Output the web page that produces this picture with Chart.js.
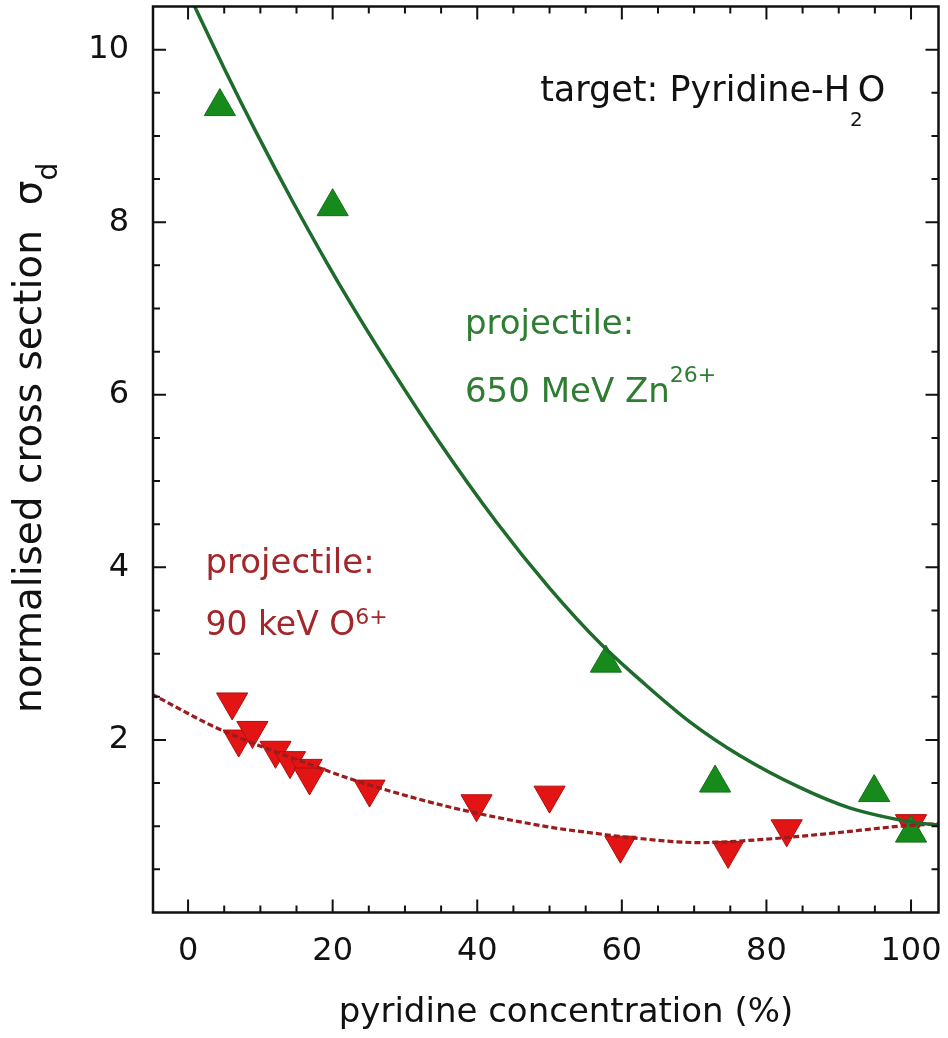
<!DOCTYPE html>
<html><head><meta charset="utf-8">
<script src="https://cdn.jsdelivr.net/npm/chart.js@4/dist/chart.umd.min.js"></script>
<style>html,body{margin:0;padding:0;background:#fff;}#wrap{width:948px;height:1038px;position:relative;}canvas{display:block;}</style>
</head><body><div id="wrap"><canvas id="c" width="948" height="1038" style="width:948px;height:1038px"></canvas></div>
<script>
const FONT = "'DejaVu Sans', sans-serif";

// ---- data ----
const zincConc  = [4.4, 20.0, 57.8, 72.9, 94.9, 100.0];
const zincSigma = [9.34, 8.18, 2.89, 1.50, 1.39, 0.92];

const oxygenConc  = [6.1, 7.0, 8.9, 12.1, 14.1, 16.4, 16.8, 25.1, 39.9, 50.0, 59.8, 74.7, 82.8, 100.0];
const oxygenSigma = [2.44, 2.01, 2.11, 1.88, 1.76, 1.67, 1.57, 1.43, 1.26, 1.36, 0.78, 0.72, 0.97, 1.03];

const zincFitConc  = [0.8, 4.9, 9.5, 14.6, 19.2, 22.2, 26.6, 34.6, 42.7, 50.0, 57.0, 63.0, 69.4, 76.3, 84.6, 91.6, 100.0, 104.0];
const zincFitSigma = [10.52, 9.80, 9.03, 8.22, 7.53, 7.10, 6.50, 5.47, 4.52, 3.76, 3.12, 2.66, 2.21, 1.82, 1.45, 1.21, 1.05, 1.01];

const oxygenFitConc  = [-5.0, 4.2, 18.7, 22.4, 27.0, 36.3, 50.0, 57.0, 61.5, 70.8, 80.0, 89.2, 98.5, 104.0];
const oxygenFitSigma = [2.53, 2.13, 1.66, 1.55, 1.43, 1.22, 0.99, 0.91, 0.865, 0.81, 0.85, 0.92, 1.00, 1.03];

const xMajorTicks = [0, 20, 40, 60, 80, 100];
const xMinorTicks = [5, 10, 15, 25, 30, 35, 45, 50, 55, 65, 70, 75, 85, 90, 95];
const yMajorTicks = [2, 4, 6, 8, 10];
const yMinorTicks = [0.5, 1, 1.5, 2.5, 3, 3.5, 4.5, 5, 5.5, 6.5, 7, 7.5, 8.5, 9, 9.5];

const xTitle = 'pyridine concentration (%)';
const yTitle = 'normalised cross section  σ';
const yTitleSub = 'd';
const targetLabel = ['target: Pyridine-H', '2', 'O'];
const zincLabel = ['projectile:', '650 MeV Zn', '26+'];
const oxygenLabel = ['projectile:', '90 keV O', '6+'];

const pts = (xs, ys) => xs.map((v, i) => ({x: v, y: ys[i]}));

function drawParts(ctx, x, y, parts, color) {
  ctx.fillStyle = color;
  ctx.textBaseline = 'alphabetic';
  ctx.textAlign = 'left';
  let cx = x;
  for (const p of parts) {
    ctx.font = p.size + 'px ' + FONT;
    ctx.fillText(p.t, cx, y + (p.dy || 0));
    cx += ctx.measureText(p.t).width + (p.kern || 0);
  }
}

const decor = {
  id: 'decor',
  afterDatasetsDraw(chart) {
    const {ctx, chartArea: a, scales: {x, y}} = chart;
    ctx.save();
    ctx.strokeStyle = '#111';
    ctx.lineWidth = 2;
    ctx.beginPath();
    const vt = (v, len) => { const p = x.getPixelForValue(v);
      ctx.moveTo(p, a.bottom); ctx.lineTo(p, a.bottom - len);
      ctx.moveTo(p, a.top); ctx.lineTo(p, a.top + len); };
    const ht = (v, len) => { const p = y.getPixelForValue(v);
      ctx.moveTo(a.left, p); ctx.lineTo(a.left + len, p);
      ctx.moveTo(a.right, p); ctx.lineTo(a.right - len, p); };
    xMajorTicks.forEach(v => vt(v, 13));
    xMinorTicks.forEach(v => vt(v, 7));
    yMajorTicks.forEach(v => ht(v, 13));
    yMinorTicks.forEach(v => ht(v, 7));
    ctx.stroke();
    ctx.lineWidth = 2.5;
    ctx.strokeRect(a.left, a.top, a.right - a.left, a.bottom - a.top);

    ctx.fillStyle = '#111';
    ctx.font = '34px ' + FONT;
    ctx.textAlign = 'center';
    ctx.textBaseline = 'alphabetic';
    ctx.fillText(xTitle, 566, 1022);

    ctx.save();
    ctx.translate(41, 713);
    ctx.rotate(-Math.PI / 2);
    drawParts(ctx, 0, 0, [{t: yTitle, size: 39}, {t: yTitleSub, size: 28, dy: 16}], '#111');
    ctx.restore();

    const X = v => x.getPixelForValue(v), Y = v => y.getPixelForValue(v);
    drawParts(ctx, X(48.7), Y(9.41), [
      {t: targetLabel[0], size: 35},
      {t: targetLabel[1], size: 20, dy: 25, kern: -5},
      {t: targetLabel[2], size: 35}], '#111');
    drawParts(ctx, X(38.3), Y(6.71), [{t: zincLabel[0], size: 34}], '#2e7d32');
    drawParts(ctx, X(38.3), Y(5.92), [{t: zincLabel[1], size: 34}, {t: zincLabel[2], size: 22, dy: -20}], '#2e7d32');
    drawParts(ctx, X(2.4), Y(3.93), [{t: oxygenLabel[0], size: 34}], '#a3262a');
    drawParts(ctx, X(2.4), Y(3.22), [{t: oxygenLabel[1], size: 33}, {t: oxygenLabel[2], size: 22, dy: -11}], '#a3262a');
    ctx.restore();
  }
};

new Chart(document.getElementById('c'), {
  type: 'scatter',
  data: {
    datasets: [
      { label: 'Zn fit', data: pts(zincFitConc, zincFitSigma), showLine: true, pointRadius: 0,
        borderColor: '#1e6b2c', borderWidth: 3.5, cubicInterpolationMode: 'monotone', clip: 0, order: 0 },
      { label: 'O fit', data: pts(oxygenFitConc, oxygenFitSigma), showLine: true, pointRadius: 0,
        borderColor: '#9a1c1c', borderWidth: 3.2, borderDash: [6, 3], cubicInterpolationMode: 'monotone', clip: 0, order: 0 },
      { label: 'O6+', data: pts(oxygenConc, oxygenSigma), pointStyle: 'triangle', rotation: 180,
        pointRadius: 18, backgroundColor: '#e31414', borderColor: '#b30d0d', borderWidth: 1, order: 2 },
      { label: 'Zn26+', data: pts(zincConc, zincSigma), pointStyle: 'triangle',
        pointRadius: 18, backgroundColor: '#178a1c', borderColor: '#137018', borderWidth: 1, order: 1 }
    ]
  },
  options: {
    responsive: false,
    animation: false,
    devicePixelRatio: 1,
    layout: { autoPadding: false, padding: { top: 6.5, right: 9.5, left: 0, bottom: 0 } },
    plugins: { legend: { display: false }, tooltip: { enabled: false } },
    scales: {
      x: {
        type: 'linear', min: -4.85, max: 103.8,
        grid: { display: false, drawTicks: false }, border: { display: false },
        afterBuildTicks: s => { s.ticks = xMajorTicks.map(v => ({value: v})); },
        afterFit: s => { s.height = 125.5; s.paddingLeft = 0; s.paddingRight = 0; s.paddingTop = 0; s.paddingBottom = 0; },
        ticks: { color: '#111', font: { family: FONT, size: 32 }, padding: 20, maxRotation: 0, autoSkip: false }
      },
      y: {
        type: 'linear', min: 0, max: 10.5,
        grid: { display: false, drawTicks: false }, border: { display: false },
        afterBuildTicks: s => { s.ticks = yMajorTicks.map(v => ({value: v})); },
        afterFit: s => { s.width = 153; s.paddingLeft = 0; s.paddingRight = 0; s.paddingTop = 0; s.paddingBottom = 0; },
        ticks: { color: '#111', font: { family: FONT, size: 32 }, padding: 24, autoSkip: false }
      }
    }
  },
  plugins: [decor]
});
</script>
</body></html>
